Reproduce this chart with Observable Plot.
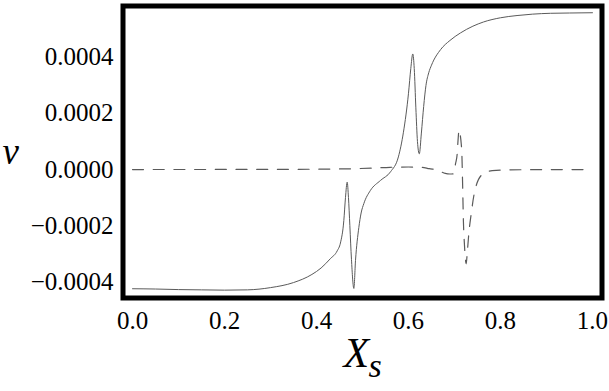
<!DOCTYPE html>
<html>
<head>
<meta charset="utf-8">
<script src="https://cdn.jsdelivr.net/npm/d3@7"></script>
<script src="https://cdn.jsdelivr.net/npm/@observablehq/plot@0.6"></script>
<style>
  html, body { margin: 0; padding: 0; background: #fff; font-family: "Liberation Serif", serif; }
</style>
</head>
<body>
<div id="chart"></div>
<script>
// Solid curve
const solidX = [0, 0.05, 0.1, 0.15, 0.2, 0.25, 0.3, 0.35, 0.39, 0.41, 0.43, 0.445, 0.452, 0.4594, 0.463, 0.4667, 0.4695, 0.4725, 0.476, 0.4812, 0.4848, 0.492, 0.497, 0.503, 0.517, 0.539, 0.561, 0.578, 0.589, 0.600, 0.605, 0.6093, 0.6125, 0.616, 0.6195, 0.6235, 0.628, 0.633, 0.638, 0.644, 0.650, 0.670, 0.690, 0.713, 0.740, 0.763, 0.800, 0.836, 0.870, 0.909, 0.950, 1.000];
const solidV = [-0.000425, -0.000426, -0.000428, -0.000429, -0.000430, -0.000429, -0.000421, -0.000403, -0.000374, -0.000351, -0.000318, -0.000290, -0.000262, -0.000182, -0.000100, -0.000045, -0.000100, -0.000200, -0.000320, -0.000424, -0.000324, -0.000207, -0.000155, -0.000121, -0.000075, -0.000039, -0.000008, 0.000045, 0.000133, 0.000272, 0.000360, 0.000412, 0.000360, 0.000220, 0.000100, 0.000056, 0.000130, 0.000225, 0.000300, 0.000345, 0.000372, 0.000428, 0.000460, 0.000487, 0.000511, 0.000526, 0.000541, 0.000549, 0.000554, 0.000557, 0.000558, 0.000559];

// Dashed curve
const dashedX = [0, 0.3, 0.45, 0.52, 0.56, 0.6, 0.63, 0.645, 0.662, 0.680, 0.690, 0.6985, 0.7022, 0.7059, 0.7072, 0.7102, 0.7128, 0.7146, 0.716, 0.7178, 0.7193, 0.7215, 0.7255, 0.7276, 0.7311, 0.7363, 0.7435, 0.7602, 0.782, 0.82, 1.0];
const dashedV = [0, 0.0000005, 0.000002, 0.000005, 0.000008, 0.000009, 0.000008, 0.000003, -0.000001, -0.000014, -0.000016, -0.000015, 0.000020, 0.000056, 0.000092, 0.000141, 0.000120, 0.000093, 0.000057, -0.000063, -0.000180, -0.000264, -0.000336, -0.000300, -0.000229, -0.000158, -0.000081, -0.000018, -0.000004, -0.000001, 0];

const xTicks = [0, 0.2, 0.4, 0.6, 0.8, 1.0];
const yTicks = [-0.0004, -0.0002, 0, 0.0002, 0.0004];
const xLabel = "X";
const xSub = "s";
const yLabel = "v";

const solid = solidX.map((x, i) => ({x, v: solidV[i]}));
const dashed = dashedX.map((x, i) => ({x, v: dashedV[i]}));

const FONT = "Liberation Serif";

const chart = Plot.plot({
  width: 609,
  height: 391,
  marginLeft: 122.5,
  marginRight: 7.5,
  marginTop: 5.5,
  marginBottom: 93.5,
  style: {fontSize: "25px", color: "#000", background: "#fff"},
  x: {domain: [-0.0207, 1.0207]},
  y: {domain: [-0.000458, 0.000583]},
  marks: [
    Plot.line(dashed, {x: "x", y: "v", stroke: "#5a5a5a", strokeWidth: 1.2, strokeDasharray: "11,9.7", curve: "monotone-x"}),
    Plot.line(solid, {x: "x", y: "v", stroke: "#5a5a5a", strokeWidth: 1, curve: "monotone-x"}),
    Plot.axisX({ticks: xTicks, tickSize: 0, tickPadding: 13, tickFormat: d3.format(".1f"), label: null, fontSize: 25, fontFamily: FONT, fill: "#000"}),
    Plot.axisY({ticks: yTicks, tickSize: 0, tickPadding: 9.5, tickFormat: d3.format(".4f"), label: null, fontSize: 25, fontFamily: FONT, fill: "#000"}),
    Plot.text([yLabel], {frameAnchor: "left", text: d => d, textAnchor: "start", dx: -120.5, fontSize: 37, fontStyle: "italic", fontFamily: FONT, fill: "#000"}),
    Plot.text([xLabel], {frameAnchor: "bottom", text: d => d, textAnchor: "start", dx: -19, dy: 69, fontSize: 42, fontStyle: "italic", fontFamily: FONT, fill: "#000"}),
    Plot.text([xSub], {frameAnchor: "bottom", text: d => d, textAnchor: "start", dx: 6, dy: 79, fontSize: 34, fontStyle: "italic", fontFamily: FONT, fill: "#000"}),
    Plot.frame({stroke: "#000", strokeWidth: 5})
  ]
});
// force the serif face on every text node
chart.style.fontFamily = FONT;
chart.querySelectorAll("text, g").forEach(el => {
  el.setAttribute("font-family", FONT);
  el.style.setProperty("font-family", FONT, "important");
});
document.getElementById("chart").appendChild(chart);
</script>
</body>
</html>
